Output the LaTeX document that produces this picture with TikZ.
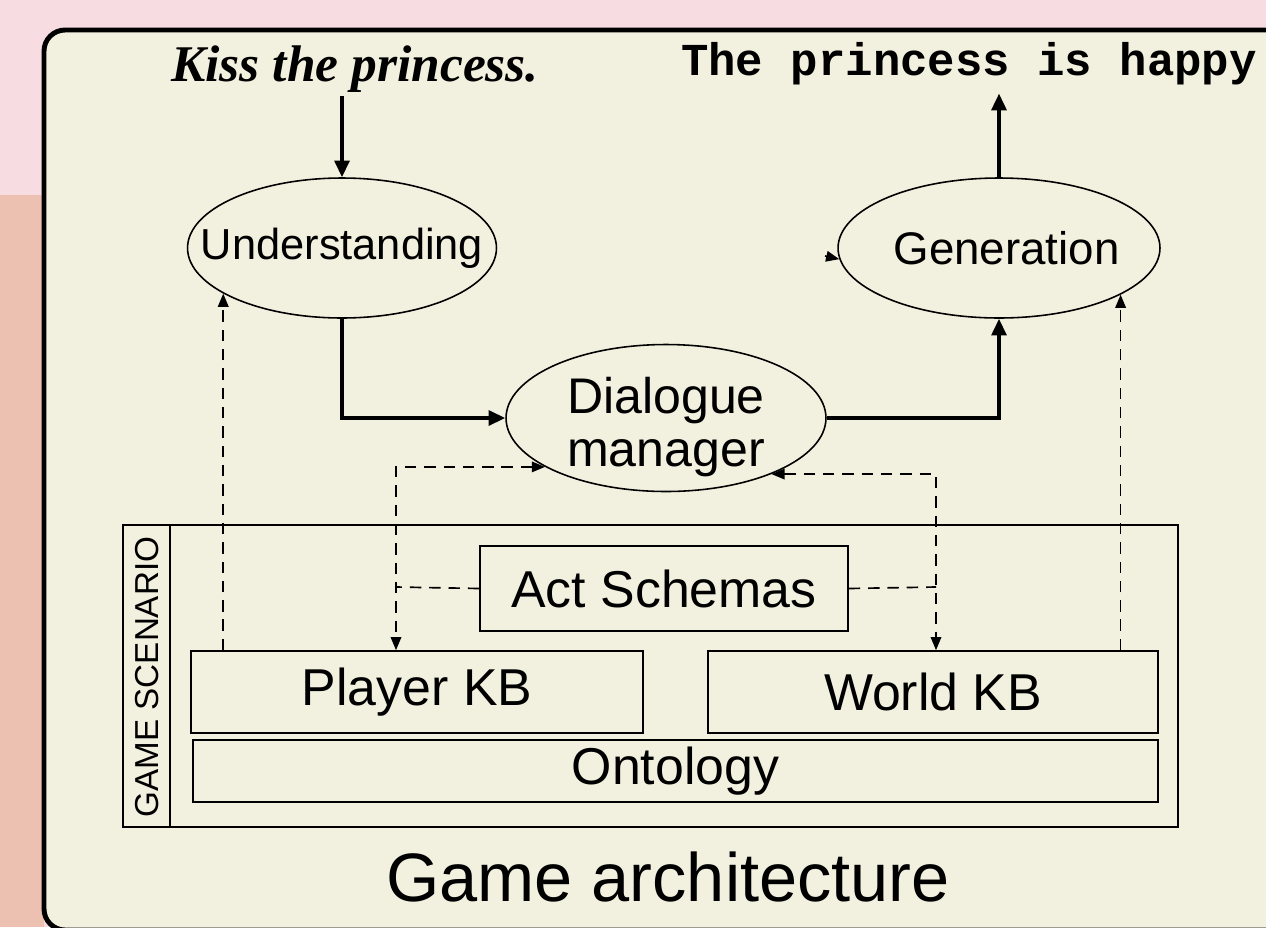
\documentclass[tikz,border=0pt]{standalone}
\usepackage{fontspec}
\setmainfont{Liberation Serif}
\setsansfont{Liberation Sans}
\setmonofont{Liberation Mono}
\usepackage{tikz}
\usetikzlibrary{shapes.geometric}
\usetikzlibrary{arrows.meta}

\definecolor{pinkbg}{RGB}{247,221,225}
\definecolor{salmonbg}{RGB}{236,193,178}
\definecolor{creambg}{RGB}{242,241,223}

\tikzset{
  proc/.style={ellipse,draw,line width=0.9pt,inner sep=0pt},
  proclbl/.style={inner sep=0pt,font=\sffamily\fontsize{24.7}{28}\selectfont},
  kb/.style={rectangle,draw,line width=0.9pt,inner sep=0pt,
    font=\sffamily\fontsize{29.5}{33}\selectfont},
  flow/.style={-{Triangle[length=9.5pt,width=8.5pt]},line width=1.9pt},
  dline/.style={line width=0.95pt,dash pattern=on 6.5pt off 4.5pt},
  dflow/.style={dline,-{Triangle[length=7.5pt,width=6pt]}},
  dboth/.style={dline,{Triangle[length=7.5pt,width=6pt]}-{Triangle[length=7.5pt,width=6pt]}},
}

\begin{document}
\begin{tikzpicture}[x=0.02cm,y=-0.02cm]
  \useasboundingbox (0,0) rectangle (1266,927);
  \clip (0,0) rectangle (1266,927);
  \fill[pinkbg] (0,0) rectangle (1266,927);
  \fill[salmonbg] (0,195) rectangle (44,927);
  \draw[line width=2.8pt,fill=creambg,rounded corners=12pt] (44,30) rectangle (1330,930);

  % input and output sentences
  \node[anchor=base,inner sep=2pt,font=\bfseries\itshape\fontsize{29.3}{33}\selectfont] (kiss) at (355,81) {Kiss the princess.};
  \node[anchor=base,inner sep=5pt,font=\ttfamily\bfseries\fontsize{26}{30}\selectfont] (happy) at (969,75) {The princess is happy};

  \node[proc,minimum width=6.18cm,minimum height=2.8cm,
    label={[proclbl]center:Understanding}] (und) at (342,248) {};
  \node[proc,minimum width=6.44cm,minimum height=2.8cm,
    label={[proclbl,xshift=0.15cm,font=\sffamily\fontsize{26}{29}\selectfont]center:Generation}] (gen) at (999,248) {};
  \node[proc,minimum width=6.4cm,minimum height=2.94cm,
    label={[proclbl,yshift=-0.18cm,align=center,font=\sffamily\fontsize{28.5}{30.5}\selectfont]center:Dialogue\\manager}] (dm) at (666,418) {};

  % game scenario
  \draw[line width=0.9pt] (123,525) rectangle (1178,827);
  \draw[line width=0.9pt] (170,525) -- (170,827);
  \node[rotate=90,font=\sffamily\fontsize{18.9}{20}\selectfont] (gs) at (147,677) {GAME SCENARIO};
  \node[kb,minimum width=7.36cm,minimum height=1.7cm] (as) at (664,588.5) {Act Schemas};
  \node[kb,minimum width=9.04cm,minimum height=1.64cm] (pkb) at (417,692) {Player KB};
  \node[kb,minimum width=9cm,minimum height=1.64cm] (wkb) at (933,692) {World KB};
  \node[kb,minimum width=19.3cm,minimum height=1.24cm] (onto) at (675.5,771) {Ontology};

  \node[anchor=base,font=\sffamily\fontsize{39}{44}\selectfont] (title) at (668,901) {Game architecture};

  \coordinate (ljoin) at (396,587);
  \coordinate (rjoin) at (936,587);
  \coordinate (stub) at (825,256);

  \draw[flow] (und.north |- kiss.south) -- (und.north);
  \draw[flow] (gen.north) -- (gen.north |- happy.south);
  \draw[flow] (und.south) |- (dm.west);
  \draw[flow] (dm.east) -| (gen.south);

  \draw[dflow] (und.201.6 |- pkb.north) -- (und.201.6);
  \draw[dflow] (gen.339.3 |- wkb.north) -- (gen.339.3);
  \draw[dboth] (dm.202.5) -| (ljoin |- pkb.north);
  \draw[dboth] (dm.332.4) -| (rjoin |- wkb.north);
  \draw[dline] (as.west) -- (ljoin);
  \draw[dline] (as.east) -- (rjoin);
  \draw[dflow] (stub) -- (gen.184);
\end{tikzpicture}
\end{document}
